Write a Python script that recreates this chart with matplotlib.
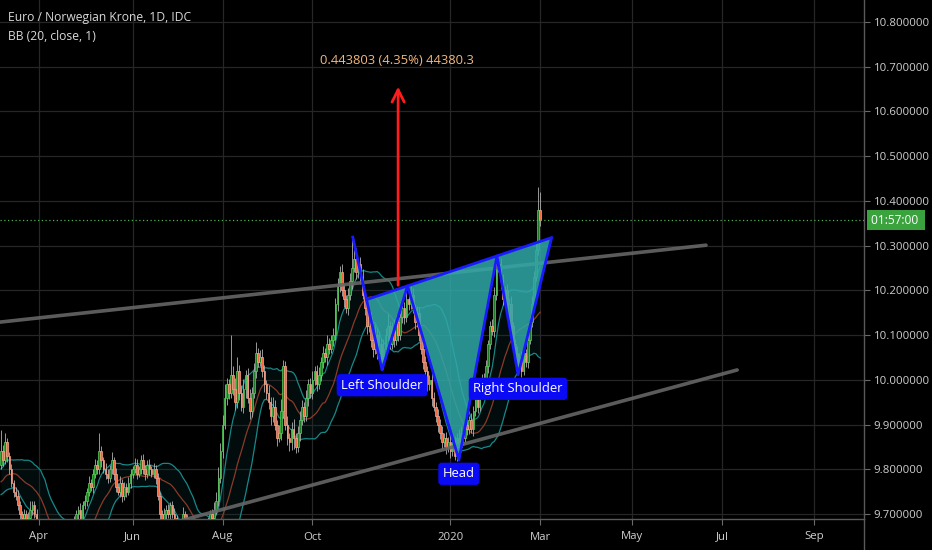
import matplotlib
matplotlib.use('Agg')
import matplotlib.pyplot as plt
import matplotlib.transforms as mtransforms
import numpy as np
import pandas as pd

plt.rcParams['font.family'] = ['Open Sans', 'DejaVu Sans']

# ---- data ----
first_day = '2019-03-06'
first_open = 9.81

# daily closes, Mar 6 2019 -> Mar 2 2020
closes = [
    9.84, 9.82, 9.86, 9.83, 9.80, 9.77, 9.75, 9.74, 9.72, 9.70,
    9.69, 9.70, 9.68, 9.69, 9.71, 9.72, 9.70, 9.68, 9.66, 9.65,
    9.62, 9.60, 9.58, 9.59, 9.57, 9.55, 9.58, 9.60, 9.63, 9.62,
    9.64, 9.66, 9.65, 9.63, 9.66, 9.68, 9.70, 9.71, 9.69, 9.72,
    9.73, 9.75, 9.77, 9.76, 9.79, 9.81, 9.80, 9.84, 9.82, 9.80,
    9.79, 9.78, 9.80, 9.82, 9.79, 9.76, 9.75, 9.77, 9.74, 9.76,
    9.75, 9.77, 9.79, 9.80, 9.81, 9.79, 9.80, 9.82, 9.80, 9.79,
    9.81, 9.80, 9.79, 9.80, 9.78, 9.74, 9.70, 9.68, 9.70, 9.71,
    9.70, 9.72, 9.70, 9.69, 9.67, 9.66, 9.68, 9.70, 9.69, 9.67,
    9.65, 9.64, 9.62, 9.63, 9.65, 9.64, 9.66, 9.67, 9.66, 9.68,
    9.70, 9.69, 9.71, 9.73, 9.78, 9.84, 9.90, 9.96, 9.99, 9.97,
    10.01, 9.98, 9.95, 10.02, 9.97, 9.94, 9.98, 10.01, 9.96, 9.93,
    9.97, 10.02, 10.06, 10.04, 10.05, 10.02, 9.99, 9.97, 9.95, 9.92,
    9.94, 9.90, 9.87, 9.88, 9.93, 10.03, 9.90, 9.87, 9.86, 9.89,
    9.87, 9.85, 9.88, 9.91, 9.94, 9.92, 9.96, 9.99, 9.97, 10.00,
    10.02, 9.99, 10.01, 10.04, 10.06, 10.05, 10.08, 10.07, 10.09, 10.10,
    10.17, 10.21, 10.24, 10.20, 10.18, 10.16, 10.19, 10.22, 10.25, 10.27,
    10.24, 10.26, 10.23, 10.19, 10.16, 10.12, 10.14, 10.09, 10.07, 10.10,
    10.06, 10.08, 10.04, 10.07, 10.10, 10.12, 10.08, 10.11, 10.09, 10.13,
    10.10, 10.14, 10.16, 10.14, 10.18, 10.17, 10.19, 10.16, 10.13, 10.15,
    10.10, 10.07, 10.04, 10.02, 9.99, 10.00, 9.96, 9.94, 9.92, 9.90,
    9.88, 9.86, 9.87, 9.85, 9.86, 9.84, 9.86, 9.83, 9.87, 9.85,
    9.88, 9.87, 9.90, 9.89, 9.91, 9.89, 9.93, 9.96, 9.94, 9.97,
    10.00, 9.98, 10.03, 10.08, 10.12, 10.11, 10.19, 10.25, 10.26, 10.22,
    10.18, 10.20, 10.15, 10.17, 10.12, 10.08, 10.06, 10.03, 10.05, 10.02,
    10.06, 10.04, 10.09, 10.13, 10.17, 10.23, 10.29, 10.38, 10.357,
]

# upper / lower wick lengths in thousandths
wick_up = [
    48, 15, 20, 10, 8, 12, 6, 10, 14, 8, 6, 12, 9, 15, 18, 10, 8, 12, 7, 10,
    9, 6, 12, 8, 10, 14, 7, 9, 11, 6, 13, 8, 10, 7, 12, 15, 9, 8, 14, 10,
    12, 9, 16, 8, 11, 14, 10, 40, 12, 8, 15, 10, 9, 18, 7, 12, 10, 14, 8, 11,
    9, 13, 10, 7, 15, 12, 8, 11, 14, 9, 10, 12, 8, 13, 9, 11, 10, 8, 14, 9,
    12, 7, 10, 13, 8, 11, 9, 15, 7, 10, 12, 8, 9, 11, 14, 7, 10, 12, 9, 13,
    10, 12, 16, 20, 25, 18, 22, 30, 15, 12, 90, 20, 25, 30, 14, 18, 22, 12, 16, 20,
    14, 18, 25, 12, 16, 20, 14, 10, 18, 12, 22, 15, 10, 20, 26, 14, 12, 18, 10, 15,
    22, 12, 16, 20, 14, 10, 18, 12, 15, 20, 11, 14, 18, 10, 16, 12, 20, 14, 10, 15,
    12, 18, 15, 20, 14, 10, 16, 18, 70, 20, 25, 12, 15, 18, 10, 14, 20, 12, 16, 25,
    18, 30, 14, 22, 16, 28, 12, 20, 25, 15, 18, 10, 22, 14, 16, 12, 20, 15, 10, 14,
    12, 10, 16, 14, 12, 10, 15, 12, 10, 14, 12, 16, 10, 14, 12, 18, 10, 15, 12, 20,
    16, 12, 18, 14, 10, 16, 12, 14, 10, 18, 12, 16, 14, 10, 12, 15, 18, 14, 20, 12,
    16, 10, 14, 12, 18, 10, 12, 16, 10, 14, 12, 10, 15, 12, 18, 14, 20, 50, 40,
]
wick_dn = [
    10, 12, 8, 14, 10, 9, 12, 8, 10, 15, 9, 7, 11, 8, 10, 12, 9, 14, 8, 10,
    12, 8, 10, 14, 9, 11, 8, 13, 10, 9, 12, 7, 10, 14, 8, 11, 9, 12, 8, 10,
    9, 13, 10, 8, 12, 9, 11, 10, 14, 8, 12, 10, 9, 11, 15, 10, 8, 12, 14, 9,
    11, 8, 13, 10, 9, 12, 8, 11, 10, 14, 9, 12, 8, 10, 13, 9, 12, 10, 8, 11,
    9, 12, 10, 8, 14, 9, 11, 10, 12, 8, 10, 13, 9, 11, 8, 12, 10, 9, 14, 10,
    12, 8, 10, 9, 12, 10, 14, 11, 16, 12, 10, 14, 18, 12, 16, 10, 14, 20, 12, 18,
    14, 10, 16, 12, 10, 14, 18, 12, 16, 20, 14, 12, 18, 10, 14, 16, 12, 15, 20, 18,
    25, 14, 12, 16, 10, 14, 12, 18, 10, 14, 12, 16, 10, 12, 14, 10, 16, 12, 10, 14,
    12, 16, 14, 12, 18, 10, 14, 12, 16, 10, 14, 12, 16, 10, 14, 18, 12, 16, 20, 12,
    14, 10, 12, 16, 10, 14, 12, 10, 16, 12, 14, 10, 12, 16, 10, 14, 12, 10, 16, 12,
    14, 12, 16, 10, 14, 12, 18, 10, 14, 16, 12, 14, 10, 16, 12, 14, 10, 10, 12, 14,
    12, 16, 10, 14, 12, 10, 16, 12, 14, 10, 12, 16, 10, 14, 12, 10, 14, 12, 10, 16,
    12, 14, 10, 16, 12, 14, 10, 12, 8, 14, 10, 12, 14, 10, 12, 16, 10, 12, 14,
]

# Feb 2019 closes (left of the view), only feed the BB(20)
seed_closes = [9.74, 9.72, 9.75, 9.77, 9.76, 9.73, 9.75, 9.78, 9.80, 9.77,
               9.79, 9.76, 9.74, 9.77, 9.79, 9.81, 9.78, 9.80, 9.79]

tick_dates = ['2019-04-01', '2019-06-01', '2019-08-01', '2019-10-01', '2020-01-01',
              '2020-03-01', '2020-05-01', '2020-07-01', '2020-09-01']
tick_labels = ['Apr', 'Jun', 'Aug', 'Oct', '2020', 'Mar', 'May', 'Jul', 'Sep']
price_ticks = [9.7, 9.8, 9.9, 10.0, 10.1, 10.2, 10.3, 10.4, 10.5, 10.6, 10.7, 10.8]

price_now = 10.357
countdown = '01:57:00'

# drawings (bar index, price)
upper_trend = [(-0.5, 10.129), (337.3, 10.301)]
lower_trend = [(86.0, 9.685), (352.2, 10.022)]
hs_x = [168.3, 182.3, 194.5, 219.1, 237.3, 247.4, 263.2]   # start, LS, LN, head, RN, RS, end
hs_y = [10.319, 10.022, 10.210, 9.821, 10.277, 10.011, 10.313]
arrow_bar = 190.0
arrow_base = 10.2115
arrow_gain = 0.443803

# ---- derived ----
c = np.array(closes)
o = np.r_[first_open, c[:-1]]
hi = np.maximum(o, c) + np.array(wick_up) / 1000
lo = np.minimum(o, c) - np.array(wick_dn) / 1000
idx = np.arange(len(c))

s = pd.Series(seed_closes + closes)
basis = s.rolling(20).mean().values[len(seed_closes):]
dev = s.rolling(20).std(ddof=0).values[len(seed_closes):]
bb_up = basis + dev
bb_lo = basis - dev

cal = pd.bdate_range(first_day, periods=450)
tick_pos = cal.searchsorted(pd.to_datetime(tick_dates))

# ---- figure ----
fig = plt.figure(figsize=(9.32, 5.5), dpi=100, facecolor='black')
ax = fig.add_axes([0, 31 / 550, 864 / 932, 519 / 550], facecolor='black')
ax.set_xlim(-0.48, 412.9)
ax.set_ylim(9.6888, 10.8492)

ax.set_xticks(tick_pos)
ax.set_xticklabels(tick_labels)
ax.set_yticks(price_ticks)
ax.set_yticklabels([f'{p:.6f}' for p in price_ticks])
ax.yaxis.tick_right()
ax.tick_params(axis='both', colors='#6a6a6a', labelcolor='#cfcfcf', labelsize=8.2, length=4, width=0.8)
ax.tick_params(axis='y', pad=3)
ax.tick_params(axis='x', pad=5)
ax.grid(True, color='#262626', lw=0.9, zorder=0)
for side in ['top', 'left']:
    ax.spines[side].set_visible(False)
for side in ['right', 'bottom']:
    ax.spines[side].set_color('#5a5a5a')
    ax.spines[side].set_linewidth(1)
fig.add_artist(plt.Line2D([864 / 932, 864 / 932], [0, 31 / 550], color='#5a5a5a', lw=1))

# Bollinger bands
ax.fill_between(idx, bb_lo, bb_up, color='#1a8f8f', alpha=0.09, lw=0, zorder=1)
ax.plot(idx, bb_up, color='#178787', lw=0.9, zorder=2)
ax.plot(idx, bb_lo, color='#178787', lw=0.9, zorder=2)
ax.plot(idx, basis, color='#8a3a28', lw=0.9, zorder=2)

# candles
rise = c >= o
body = np.maximum(np.abs(c - o), 0.0015)
bottom = np.minimum(o, c)
ax.vlines(idx, lo, hi, color='#b0b0b0', lw=0.6, zorder=3)
ax.bar(idx[rise], body[rise], bottom=bottom[rise], width=0.8, color='#1f7a26',
       edgecolor='#55d65a', lw=0.5, zorder=4)
ax.bar(idx[~rise], body[~rise], bottom=bottom[~rise], width=0.8, color='#f5673f',
       edgecolor='#ffa88e', lw=0.5, zorder=4)

# trend lines
for line in [upper_trend, lower_trend]:
    xs, ys = zip(*line)
    ax.plot(xs, ys, color='#666666', lw=2.6, alpha=0.9, solid_capstyle='round', zorder=5)

# current price
ax.axhline(price_now, color='#4caf50', lw=0.9, ls=(0, (1, 2)), zorder=5)
trans = mtransforms.blended_transform_factory(ax.transAxes, ax.transData)
ax.text(1.008, price_now, countdown + ' ', transform=trans, ha='left', va='center', color='white',
        fontsize=8.6, clip_on=False,
        bbox=dict(boxstyle='square,pad=0.32', fc='#3aa33d', ec='none'))


# inverse head & shoulders
def cross(p1, p2, p3, p4):
    (x1, y1), (x2, y2), (x3, y3), (x4, y4) = p1, p2, p3, p4
    d = (x1 - x2) * (y3 - y4) - (y1 - y2) * (x3 - x4)
    t = ((x1 - x3) * (y3 - y4) - (y1 - y3) * (x3 - x4)) / d
    return x1 + t * (x2 - x1), y1 + t * (y2 - y1)


pts = list(zip(hs_x, hs_y))
neck_l = cross(pts[2], pts[4], pts[0], pts[1])
neck_r = cross(pts[2], pts[4], pts[5], pts[6])
teal = '#30a8a8'
for tri in [[neck_l, pts[1], pts[2]], [pts[2], pts[3], pts[4]], [pts[4], pts[5], neck_r]]:
    ax.add_patch(plt.Polygon(tri, closed=True, fc=teal, ec='none', alpha=0.85, zorder=6))
hs_blue = '#1a1aff'
ax.plot(hs_x, hs_y, color=hs_blue, lw=2, zorder=7)
ax.plot([neck_l[0], neck_r[0]], [neck_l[1], neck_r[1]], color=hs_blue, lw=2, zorder=7)

for k, name, dy in [(1, 'Left Shoulder', -11), (3, 'Head', -10), (5, 'Right Shoulder', -10)]:
    ax.annotate(name, xy=pts[k], xytext=(0, dy), textcoords='offset points', ha='center',
                va='center', color='white', fontsize=9.4, zorder=8,
                bbox=dict(boxstyle='round,pad=0.3,rounding_size=0.2', fc='#0a0af5', ec='#0a0af5'))

# projection arrow
ax.annotate('', xy=(arrow_bar, arrow_base + arrow_gain), xytext=(arrow_bar, arrow_base),
            arrowprops=dict(arrowstyle='->', color='#ff1c1c', lw=2, mutation_scale=22,
                            shrinkA=0, shrinkB=0), zorder=8)
ax.text(arrow_bar - 0.5, 10.715,
        f'{arrow_gain:.6f} ({arrow_gain / arrow_base:.2%}) {arrow_gain * 1e5:.1f}',
        ha='center', va='center', color='#f2b77c', fontsize=9.4, zorder=8)

# header
fig.text(8 / 932, 1 - 18 / 550, 'Euro / Norwegian Krone, 1D, IDC', color='#d9d9d9',
         fontsize=8.7, va='center', ha='left')
fig.text(8 / 932, 1 - 36 / 550, 'BB (20, close, 1)', color='#d9d9d9',
         fontsize=8.7, va='center', ha='left')

fig.savefig('out.png', dpi=100, facecolor='black')
